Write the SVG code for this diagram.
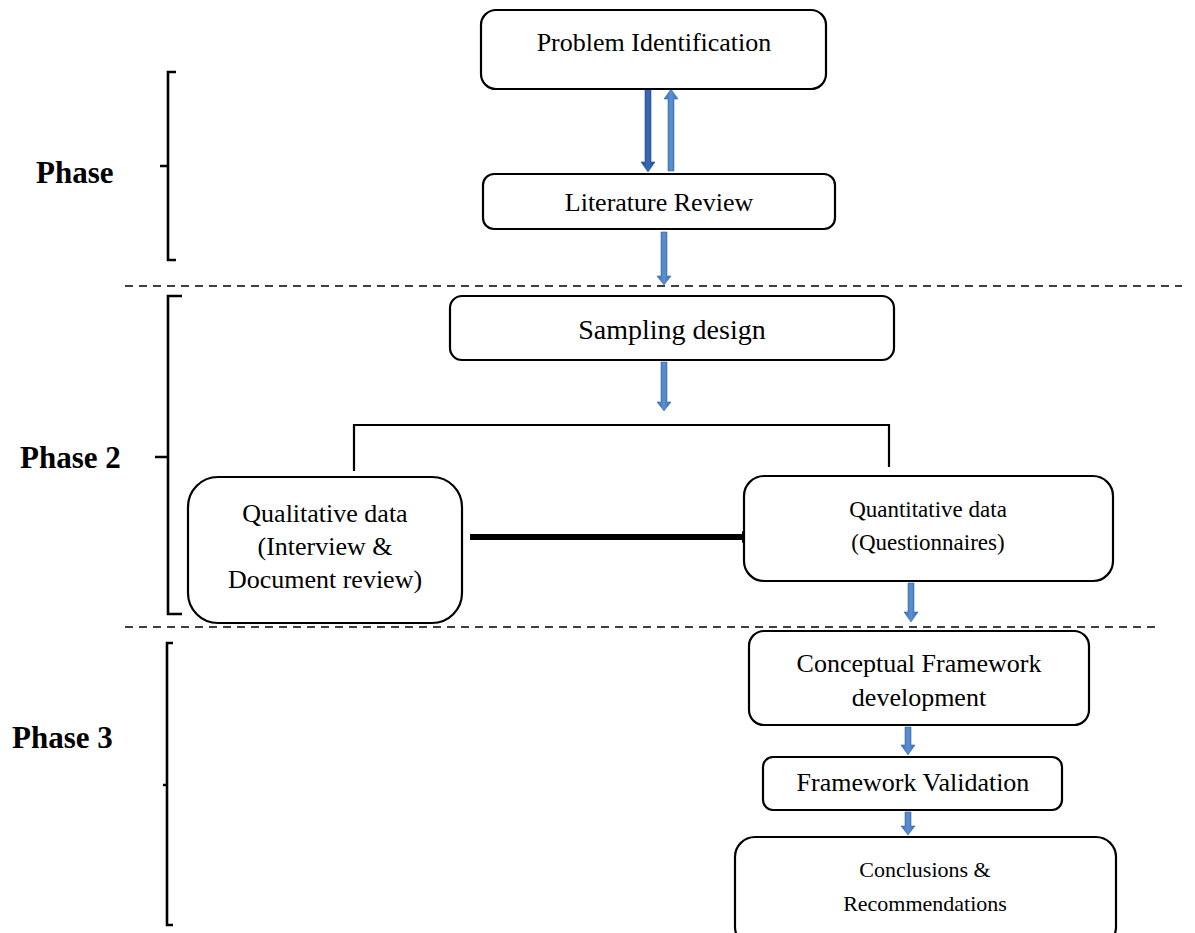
<svg xmlns="http://www.w3.org/2000/svg" width="1195" height="933" viewBox="0 0 1195 933">
  <style>
    .box { fill: #ffffff; stroke: #000000; stroke-width: 2.2; }
    .lbl { font-family: "Liberation Serif", "Times New Roman", serif; fill: #000000; text-anchor: middle; }
    .phase { font-family: "Liberation Serif", "Times New Roman", serif; font-weight: bold; font-size: 31px; fill: #000000; }
    .brace { fill: none; stroke: #000000; stroke-width: 2.6; }
    .divider { stroke: #000000; stroke-width: 1.6; stroke-dasharray: 8 6; }
    .link { fill: none; stroke: #000000; stroke-width: 2.2; }
  </style>
  <defs>
    <linearGradient id="blueShaft" x1="0" y1="0" x2="1" y2="0">
      <stop offset="0" stop-color="#3a6db5"/>
      <stop offset="0.5" stop-color="#5b8fd0"/>
      <stop offset="1" stop-color="#3a6db5"/>
    </linearGradient>
    <linearGradient id="darkShaft" x1="0" y1="0" x2="1" y2="0">
      <stop offset="0" stop-color="#25509a"/>
      <stop offset="0.5" stop-color="#3b68b5"/>
      <stop offset="1" stop-color="#25509a"/>
    </linearGradient>
  </defs>

  <!-- phase dividers -->
  <line class="divider" x1="125" y1="286" x2="1182" y2="286"/>
  <line class="divider" x1="125" y1="627" x2="1160" y2="627"/>

  <!-- phase braces and labels -->
  <g id="phase1">
    <path class="brace" d="M176,72 H168 V260 H176 M168,166 H160"/>
    <text class="phase" x="36" y="183">Phase</text>
  </g>
  <g id="phase2">
    <path class="brace" d="M182,296 H168 V614 H182 M168,457 H155"/>
    <text class="phase" x="20" y="468">Phase 2</text>
  </g>
  <g id="phase3">
    <path class="brace" d="M173,643 H167 V925 H173 M167,785 H163"/>
    <text class="phase" x="12" y="748">Phase 3</text>
  </g>

  <!-- connectors -->
  <g id="connectors">
    <!-- Problem Identification -> Literature Review -->
    <path fill="url(#darkShaft)" stroke="#2a4f8f" stroke-width="0.6" d="M645,89 H651 V162 H655 L648,172 L641,162 H645 Z"/>
    <!-- Literature Review -> Problem Identification -->
    <path fill="url(#blueShaft)" stroke="#3d6aa8" stroke-width="0.6" d="M668,171 H674 V99 H678 L671,89 L664,99 H668 Z"/>
    <!-- Literature Review -> Sampling design -->
    <path fill="url(#blueShaft)" stroke="#3d6aa8" stroke-width="0.6" d="M661,232 H667 V276 H671 L664,285 L657,276 H661 Z"/>
    <!-- Sampling design -> branch -->
    <path fill="url(#blueShaft)" stroke="#3d6aa8" stroke-width="0.6" d="M661,362 H667 V402 H671 L664,411 L657,402 H661 Z"/>
    <!-- branch to both data boxes -->
    <path class="link" d="M354,471 V425 H889 V467"/>
    <!-- Qualitative -> Quantitative -->
    <line x1="470" y1="537" x2="744" y2="537" stroke="#000000" stroke-width="6"/>
    <path d="M742,531 L751,537 L742,543 Z" fill="#000000"/>
    <!-- Quantitative -> Conceptual Framework -->
    <path fill="url(#blueShaft)" stroke="#3d6aa8" stroke-width="0.6" d="M908,583 H914 V612 H918 L911,622 L904,612 H908 Z"/>
    <!-- Conceptual Framework -> Framework Validation -->
    <path fill="url(#blueShaft)" stroke="#3d6aa8" stroke-width="0.6" d="M905,727 H911 V745 H915 L908,755 L901,745 H905 Z"/>
    <!-- Framework Validation -> Conclusions -->
    <path fill="url(#blueShaft)" stroke="#3d6aa8" stroke-width="0.6" d="M905,812 H911 V826 H915 L908,835 L901,826 H905 Z"/>
  </g>

  <!-- nodes -->
  <g id="problem-identification">
    <rect class="box" x="481" y="10" width="345" height="79" rx="15"/>
    <text class="lbl" x="654" y="51" font-size="26">Problem Identification</text>
  </g>
  <g id="literature-review">
    <rect class="box" x="483" y="174" width="352" height="55" rx="11"/>
    <text class="lbl" x="659" y="211" font-size="26">Literature Review</text>
  </g>
  <g id="sampling-design">
    <rect class="box" x="450" y="296" width="444" height="64" rx="12"/>
    <text class="lbl" x="672" y="339" font-size="28">Sampling design</text>
  </g>
  <g id="qualitative-data">
    <rect class="box" x="188" y="477" width="274" height="146" rx="30"/>
    <text class="lbl" x="325" y="522" font-size="26">Qualitative data</text>
    <text class="lbl" x="325" y="555" font-size="26">(Interview &amp;</text>
    <text class="lbl" x="325" y="588" font-size="26">Document review)</text>
  </g>
  <g id="quantitative-data">
    <rect class="box" x="744" y="476" width="369" height="105" rx="20"/>
    <text class="lbl" x="928" y="517" font-size="23">Quantitative data</text>
    <text class="lbl" x="928" y="550" font-size="23">(Questionnaires)</text>
  </g>
  <g id="conceptual-framework">
    <rect class="box" x="749" y="631" width="340" height="94" rx="15"/>
    <text class="lbl" x="919" y="672" font-size="26">Conceptual Framework</text>
    <text class="lbl" x="919" y="706" font-size="26">development</text>
  </g>
  <g id="framework-validation">
    <rect class="box" x="763" y="757" width="299" height="53" rx="10"/>
    <text class="lbl" x="913" y="791" font-size="26">Framework Validation</text>
  </g>
  <g id="conclusions">
    <rect class="box" x="735" y="837" width="381" height="110" rx="20"/>
    <text class="lbl" x="925" y="877" font-size="22">Conclusions &amp;</text>
    <text class="lbl" x="925" y="911" font-size="22">Recommendations</text>
  </g>
</svg>
